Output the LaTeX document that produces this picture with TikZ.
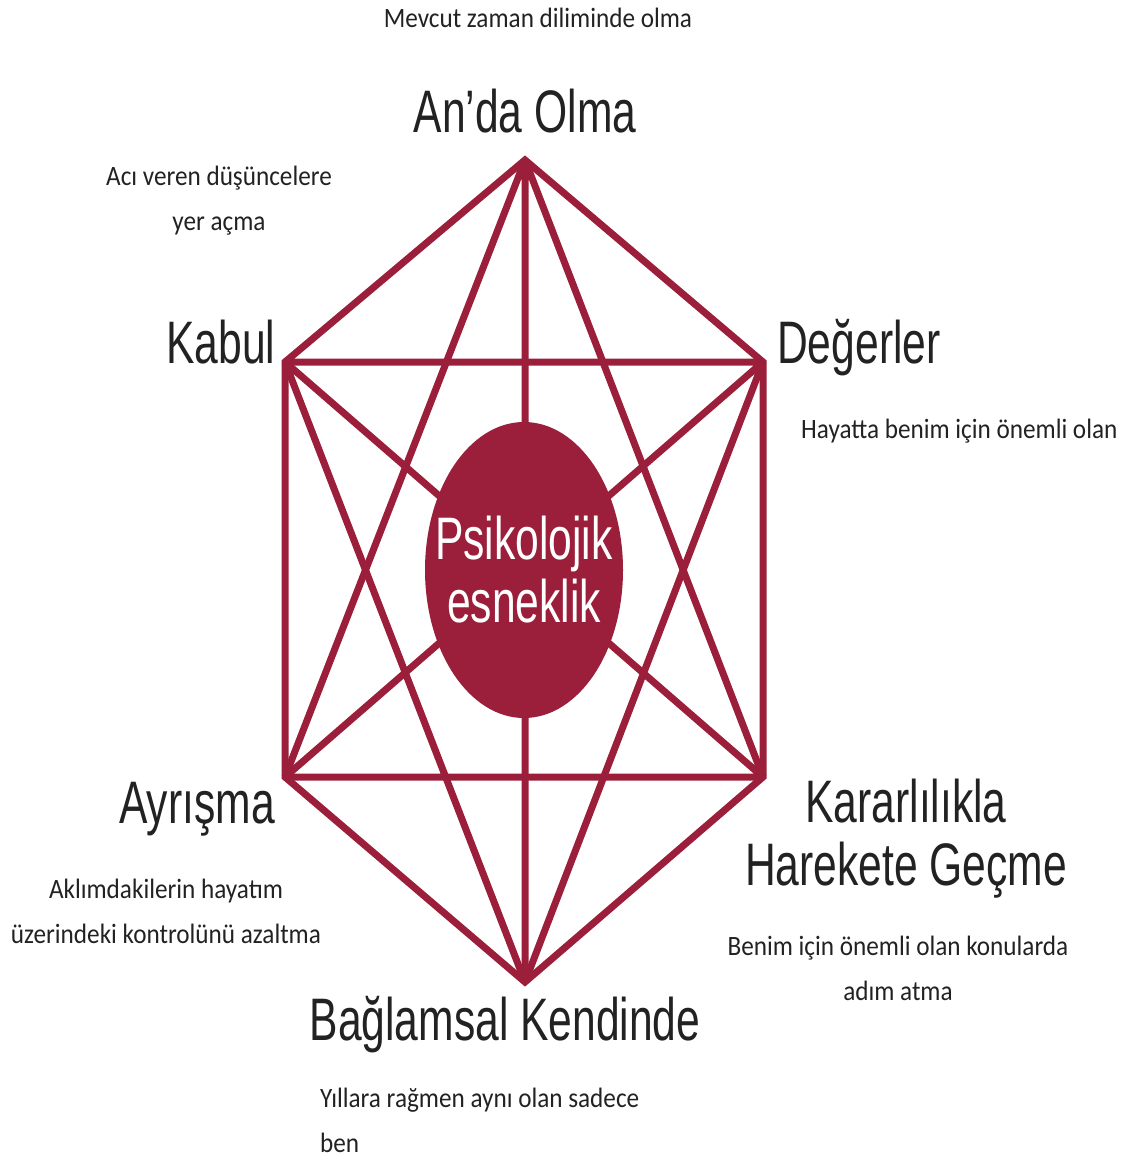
\documentclass[tikz,border=0pt]{standalone}
\usepackage{fontspec}
\usepackage{xcolor}
\usetikzlibrary{shapes.geometric}
\setmainfont{Carlito}
\newfontfamily\labelfont[FakeStretch=0.71]{Liberation Sans}
\newfontfamily\notefont[FakeStretch=0.9]{Carlito}
\definecolor{wine}{RGB}{155,31,58}
\definecolor{ink}{RGB}{34,34,34}

\begin{document}
\begin{tikzpicture}[x=1pt, y=-1pt]
% Define styles
\tikzstyle{bigLabel}=[inner sep=0pt, anchor=base, text=ink, align=center, font=\labelfont\fontsize{60}{63}\selectfont]
\tikzstyle{note}=[inner sep=0pt, anchor=base, text=ink, align=center, font=\notefont\fontsize{28}{45}\selectfont]
\tikzstyle{edge}=[draw=wine, line width=7pt, line join=miter]
\tikzstyle{core}=[ellipse, fill=wine, minimum width=198pt, minimum height=296pt, inner sep=0pt]
\tikzstyle{coreText}=[inner sep=0pt, text=white, align=center, font=\labelfont\fontsize{60}{63}\selectfont]

\useasboundingbox (0,0) rectangle (1136,1162);

% Corners of the hexagon
\coordinate (now) at (525,160);
\coordinate (values) at (763,362);
\coordinate (action) at (763,777);
\coordinate (self) at (525,982);
\coordinate (defusion) at (285,777);
\coordinate (accept) at (285,362);

% Hexagon and all diagonals
\draw[edge] (now) -- (values) -- (action) -- (self) -- (defusion) -- (accept) -- cycle;
\draw[edge] (now) -- (action) (now) -- (self) (now) -- (defusion);
\draw[edge] (values) -- (self) (values) -- (defusion) (values) -- (accept);
\draw[edge] (action) -- (defusion) (action) -- (accept) (self) -- (accept);

% Centre
\node[core] (flex) at (524,570) {};
\node[coreText] (flexText) at (flex) {Psikolojik\\esneklik};

% Main labels
\node[bigLabel] (nowLabel) at (525,132) {An’da Olma};
\node[bigLabel] (acceptLabel) at (221,363) {Kabul};
\node[bigLabel, anchor=base west] (valuesLabel) at (777,363) {Değerler};
\node[bigLabel] (defusionLabel) at (197,823) {Ayrışma};
\node[bigLabel] (actionLabel) at (906,885) {Kararlılıkla\\Harekete Geçme};
\node[bigLabel] (selfLabel) at (505,1040) {Bağlamsal Kendinde};

% Notes
\node[note] (nowNote) at (538,27) {Mevcut zaman diliminde olma};
\node[note] (acceptNote) at (219,230) {Acı veren düşüncelere\\yer açma};
\node[note, anchor=base west] (valuesNote) at (801,438) {Hayatta benim için önemli olan};
\node[note] (defusionNote) at (166,943) {Aklımdakilerin hayatım\\üzerindeki kontrolünü azaltma};
\node[note] (actionNote) at (898,1000) {Benim için önemli olan konularda\\adım atma};
\node[note, anchor=base west, align=left] (selfNote) at (320,1152) {Yıllara rağmen aynı olan sadece\\ben};
\end{tikzpicture}
\end{document}
